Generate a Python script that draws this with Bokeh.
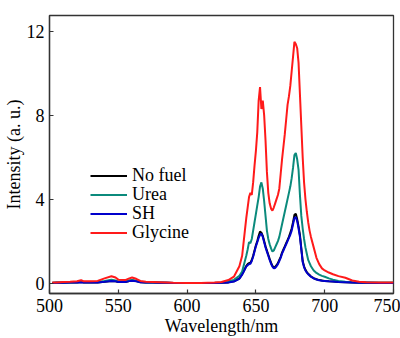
from bokeh.plotting import figure
from bokeh.models import Range1d, FixedTicker, Legend, LegendItem
from bokeh.embed import file_html
from bokeh.resources import INLINE

wavelength = [502, 505, 510, 515, 520, 523, 525, 530, 535, 540,
              545, 548, 550, 555, 558, 560, 563, 566, 570, 575,
              580, 585, 590, 600, 610, 620, 625, 630, 634, 638,
              640, 641, 642, 643, 644, 645, 646, 647, 648, 649,
              650, 651, 652, 653, 654, 655, 656, 657, 658, 659,
              660, 661, 662, 663, 664, 665, 666, 667, 668, 669,
              670, 671, 672, 673, 674, 675, 676, 677, 678, 679,
              680, 681, 682, 683, 684, 685, 686, 687, 688, 689, 690,
              692, 694, 696, 698, 700, 703, 706, 710, 715, 720, 725, 730, 740, 750]

no_fuel = [0.0, 0.01, 0.01, 0.02, 0.02, 0.05, 0.02, 0.02, 0.03, 0.06,
           0.1, 0.08, 0.05, 0.05, 0.1, 0.12, 0.09, 0.04, 0.02, 0.02,
           0.01, 0.01, 0.0, 0.0, 0.0, 0.0, 0.01, 0.03, 0.08, 0.22,
           0.42, 0.55, 0.68, 0.82, 0.9, 0.95, 0.97, 1.1, 1.3, 1.55,
           1.8, 2.0, 2.25, 2.45, 2.4, 2.25, 2.0, 1.75, 1.55, 1.35,
           1.15, 0.97, 0.82, 0.75, 0.77, 0.85, 0.95, 1.1, 1.25, 1.45,
           1.6, 1.75, 1.9, 2.05, 2.2, 2.4, 2.6, 2.9, 3.25, 3.3,
           3.05, 2.7, 2.3, 1.65, 1.05, 0.8, 0.63, 0.52, 0.44, 0.38, 0.31,
           0.23, 0.18, 0.14, 0.12, 0.1, 0.08, 0.07, 0.05, 0.04, 0.02, 0.01, 0.01, 0.0, 0.0]

urea = [0.01, 0.02, 0.02, 0.03, 0.04, 0.06, 0.04, 0.04, 0.05, 0.1,
        0.16, 0.12, 0.08, 0.08, 0.13, 0.15, 0.12, 0.06, 0.03, 0.02,
        0.02, 0.01, 0.0, 0.0, 0.0, 0.01, 0.03, 0.08, 0.15, 0.35,
        0.55, 0.8, 1.05, 1.3, 1.6, 1.95, 1.9, 2.1, 2.5, 2.9,
        3.3, 3.7, 4.1, 4.6, 4.8, 4.5, 3.9, 3.2, 2.5, 2.1,
        1.85, 1.65, 1.5, 1.55, 1.7, 1.85, 2.0, 2.2, 2.5, 2.8,
        3.1, 3.4, 3.7, 4.0, 4.3, 4.6, 5.0, 5.5, 6.1, 6.2,
        5.9, 5.4, 4.2, 3.2, 2.6, 2.1, 1.7, 1.4, 1.1, 0.95, 0.8,
        0.6, 0.48, 0.4, 0.34, 0.3, 0.22, 0.16, 0.1, 0.06, 0.04, 0.03, 0.03, 0.02, 0.02]

sh = [0.0, 0.01, 0.01, 0.02, 0.02, 0.04, 0.02, 0.02, 0.03, 0.06,
      0.1, 0.08, 0.05, 0.05, 0.09, 0.11, 0.08, 0.04, 0.02, 0.02,
      0.01, 0.01, 0.0, 0.0, 0.0, 0.0, 0.01, 0.03, 0.07, 0.2,
      0.4, 0.52, 0.65, 0.78, 0.85, 0.9, 0.92, 1.05, 1.25, 1.5,
      1.75, 1.95, 2.15, 2.3, 2.35, 2.2, 1.95, 1.7, 1.5, 1.3,
      1.1, 0.92, 0.78, 0.7, 0.72, 0.8, 0.9, 1.05, 1.2, 1.4,
      1.55, 1.7, 1.85, 2.0, 2.15, 2.3, 2.5, 2.8, 3.1, 3.15,
      2.95, 2.6, 2.2, 1.6, 1.0, 0.75, 0.6, 0.5, 0.42, 0.36, 0.3,
      0.22, 0.17, 0.13, 0.11, 0.1, 0.08, 0.07, 0.05, 0.04, 0.02, 0.01, 0.01, 0.0, 0.0]

glycine = [0.02, 0.03, 0.05, 0.06, 0.08, 0.13, 0.08, 0.08, 0.1, 0.22,
           0.32, 0.26, 0.16, 0.14, 0.22, 0.26, 0.2, 0.1, 0.06, 0.05,
           0.04, 0.03, 0.01, 0.0, 0.0, 0.02, 0.05, 0.14, 0.3, 0.8,
           1.3, 1.9, 2.5, 3.1, 3.6, 4.1, 4.3, 4.2, 4.8, 5.6,
           6.3, 7.2, 8.7, 9.35, 8.3, 8.7, 8.0, 6.8, 5.3, 4.3,
           3.8, 3.55, 3.45, 3.6, 3.8, 4.0, 4.2, 4.5, 5.2, 5.9,
           6.5, 7.1, 7.8, 8.5, 8.9, 9.4, 10.1, 10.8, 11.5, 11.4,
           11.2, 10.5, 9.0, 7.5, 6.0, 4.8, 4.0, 3.4, 2.9, 2.5, 2.2,
           1.7, 1.2, 0.9, 0.7, 0.6, 0.5, 0.42, 0.33, 0.25, 0.12, 0.06, 0.04, 0.02, 0.02]

series_names = ["No fuel", "Urea", "SH", "Glycine"]
series_colors = ["#000000", "#0b8a7c", "#0000cc", "#ff1a1a"]
x_ticks = [500, 550, 600, 650, 700, 750]
y_ticks = [0, 4, 8, 12]

FONT = "Liberation Serif"
AX = "#333333"

p = figure(width=400, height=338, output_backend="svg", toolbar_location=None,
           x_range=Range1d(500, 750), y_range=Range1d(-0.5, 12.76),
           min_border_left=48, min_border_right=7, min_border_top=15, min_border_bottom=45)
p.background_fill_color = "white"
p.border_fill_color = "white"
p.outline_line_color = AX
p.outline_line_width = 1.3
p.grid.visible = False

p.xaxis.ticker = FixedTicker(ticks=x_ticks)
p.yaxis.ticker = FixedTicker(ticks=y_ticks)
for ax in (p.xaxis, p.yaxis):
    ax.axis_line_color = AX
    ax.axis_line_width = 1.3
    ax.major_tick_line_color = AX
    ax.major_tick_line_width = 1.2
    ax.major_tick_in = 4
    ax.major_tick_out = 0
    ax.minor_tick_line_color = None
    ax.major_label_text_font = FONT
    ax.major_label_text_font_size = "18px"
    ax.major_label_text_color = "black"
    ax.axis_label_text_font = FONT
    ax.axis_label_text_font_size = "18px"
    ax.axis_label_text_font_style = "normal"
    ax.axis_label_text_color = "black"
p.xaxis.axis_label = "Wavelength/nm"
p.yaxis.axis_label = "Intensity (a. u.)"
p.xaxis.major_label_standoff = 5
p.xaxis.axis_label_standoff = 1
p.yaxis.major_label_standoff = 5
p.yaxis.axis_label_standoff = 0

renderers = []
for ys, c in zip([no_fuel, urea, sh, glycine], series_colors):
    r = p.line(wavelength, ys, line_color=c, line_width=2)
    renderers.append(r)

# one legend per row so that the row pitch matches the original (19 px)
n = len(series_names)
for i, (name, r) in enumerate(zip(series_names, renderers)):
    lg = Legend(items=[LegendItem(label=name, renderers=[r])],
                location=(41, 50 + 19 * (n - 1 - i)), orientation="vertical")
    lg.background_fill_alpha = 0
    lg.border_line_color = None
    lg.padding = 0
    lg.margin = 0
    lg.spacing = 0
    lg.label_height = 19
    lg.glyph_height = 19
    lg.glyph_width = 37
    lg.label_standoff = 5
    lg.label_text_font = FONT
    lg.label_text_font_size = "18px"
    lg.label_text_color = "black"
    p.add_layout(lg)

open("out.html", "w").write(file_html(p, INLINE))
